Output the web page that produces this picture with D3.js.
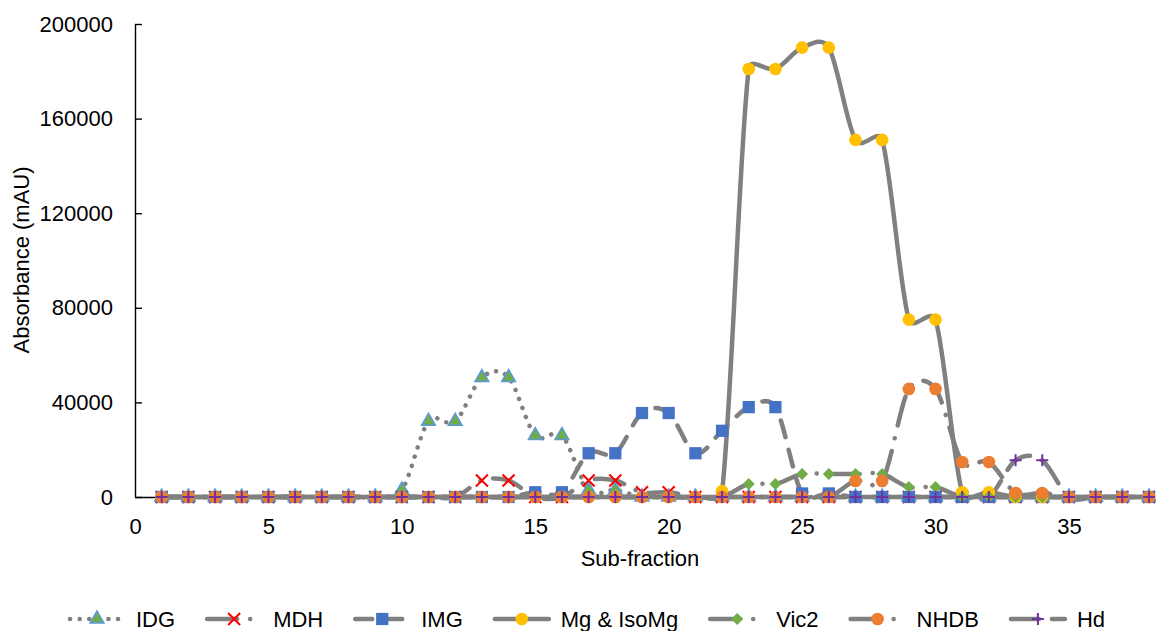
<!DOCTYPE html>
<html>
<head>
<meta charset="utf-8">
<script src="https://cdn.jsdelivr.net/npm/d3@7/dist/d3.min.js"></script>
<style>
  html, body { margin: 0; padding: 0; background: #fff; }
  svg text { font-family: "Liberation Sans", Arial, sans-serif; fill: #000; }
</style>
</head>
<body>
<svg id="chart" width="1156" height="631"></svg>
<script>
// Sub-fractions collected from the column
const subFraction = [1,2,3,4,5,6,7,8,9,10,11,12,13,14,15,16,17,18,19,20,21,22,23,24,25,26,27,28,29,30,31,32,33,34,35,36,37,38];

// Absorbance (mAU) per sub-fraction for each compound
const idg  = [0,0,0,0,0,0,0,0,0,3000, 32000,32000,50500,50500,26000,26000,3000,3000,0,0, 0,0,0,0,0,0,0,0,0,0, 0,0,0,0,0,0,0,0];
const mdh  = [0,0,0,0,0,0,0,0,0,0, 0,0,7000,7000,0,0,7000,7000,2000,2000, 0,0,0,0,0,0,0,0,0,0, 0,0,0,0,0,0,0,0];
const img  = [0,0,0,0,0,0,0,0,0,0, 0,0,0,0,2000,2000,18500,18500,35500,35500, 18500,28000,38000,38000,1500,1500,0,0,0,0, 0,0,0,0,0,0,0,0];
const mg   = [0,0,0,0,0,0,0,0,0,0, 0,0,0,0,0,0,0,0,0,0, 0,2500,181000,181000,190000,190000,151000,151000,75000,75000, 2000,2000,0,0,0,0,0,0];
const vic2 = [0,0,0,0,0,0,0,0,0,0, 0,0,0,0,0,0,0,0,0,0, 0,0,5500,5500,9700,9700,9700,9700,4200,4200, 0,0,0,0,0,0,0,0];
const nhdb = [0,0,0,0,0,0,0,0,0,0, 0,0,0,0,0,0,0,0,0,0, 0,0,0,0,0,0,6800,6800,45700,45700, 14800,14800,1700,1700,0,0,0,0];
const hd   = [0,0,0,0,0,0,0,0,0,0, 0,0,0,0,0,0,0,0,0,0, 0,0,0,0,0,0,0,0,0,0, 0,0,15500,15500,0,0,0,0];

const seriesNames = ["IDG", "MDH", "IMG", "Mg & IsoMg", "Vic2", "NHDB", "Hd"];
const seriesValues = [idg, mdh, img, mg, vic2, nhdb, hd];

const yTicks = [0, 40000, 80000, 120000, 160000, 200000];
const xTicks = [0, 5, 10, 15, 20, 25, 30, 35];

// Line and marker styling per series
const lineGray = "#808080";
const styles = [
  { dash: "0.1 9.5",          marker: "triangle", fill: "#70AD47", stroke: "#5B9BD5" },
  { dash: "30 13 0.1 13",     marker: "x",        fill: "none",    stroke: "#FF0000" },
  { dash: "17 13",            marker: "square",   fill: "#4472C4", stroke: "#4472C4" },
  { dash: null,               marker: "circle",   fill: "#FFC000", stroke: "#FFC000" },
  { dash: "30 13 0.1 13",     marker: "diamond",  fill: "#70AD47", stroke: "#70AD47" },
  { dash: "30 13 0.1 13",     marker: "circle",   fill: "#ED7D31", stroke: "#ED7D31" },
  { dash: "28 13",            marker: "plus",     fill: "none",    stroke: "#7030A0" }
];

const series = seriesNames.map((name, i) => ({
  name,
  style: styles[i],
  points: subFraction.map((s, j) => ({ x: s, y: seriesValues[i][j] }))
}));

const svg = d3.select("#chart");
const FONT = 22;

const x = d3.scaleLinear().domain([0, 38]).range([135, 1149]);
const y = d3.scaleLinear().domain([0, 200000]).range([497, 24]);

// Y axis with inward ticks
const yAxis = svg.append("g")
  .attr("transform", `translate(${x(0)},0)`)
  .call(d3.axisLeft(y).tickValues(yTicks).tickFormat(d3.format("d"))
    .tickSizeInner(-7).tickSizeOuter(0).tickPadding(22));
yAxis.select(".domain").attr("stroke", "#000").attr("stroke-width", 1.4);
yAxis.selectAll(".tick line").attr("stroke", "#000").attr("stroke-width", 1.4);
yAxis.selectAll("text").style("font-size", FONT + "px");

// X axis
const xAxis = svg.append("g")
  .attr("transform", `translate(0,${y(0)})`)
  .call(d3.axisBottom(x).tickValues(xTicks).tickSize(0).tickSizeOuter(0).tickPadding(21));
xAxis.select(".domain").attr("stroke", "#000").attr("stroke-width", 1.4);
xAxis.selectAll("text").style("font-size", FONT + "px");

// Axis titles
svg.append("text")
  .attr("transform", "translate(29,260) rotate(-90)")
  .attr("text-anchor", "middle")
  .style("font-size", FONT + "px")
  .text("Absorbance (mAU)");

svg.append("text")
  .attr("x", 640).attr("y", 566)
  .attr("text-anchor", "middle")
  .style("font-size", FONT + "px")
  .text("Sub-fraction");

// Smoothing curve: cubic Bezier segments with Catmull-Rom tangents (1/6 of the
// neighbour span), each control arm limited to half of its segment's chord so
// that steep jumps next to flat runs do not overshoot much.
function SmoothClamped(context) { this._context = context; }
SmoothClamped.prototype = {
  areaStart() {}, areaEnd() {},
  lineStart() { this._pts = []; },
  point(px, py) { this._pts.push([+px, +py]); },
  lineEnd() {
    const p = this._pts, n = p.length, c = this._context;
    if (!n) return;
    c.moveTo(p[0][0], p[0][1]);
    if (n === 1) return;
    const tangent = i => {
      const a = p[Math.max(i - 1, 0)], b = p[Math.min(i + 1, n - 1)];
      return [(b[0] - a[0]) / 6, (b[1] - a[1]) / 6];
    };
    const clamp = (t, maxLen) => {
      const len = Math.hypot(t[0], t[1]);
      return len > maxLen ? [t[0] * maxLen / len, t[1] * maxLen / len] : t;
    };
    for (let i = 0; i < n - 1; i++) {
      const p0 = p[i], p1 = p[i + 1];
      const chord = Math.hypot(p1[0] - p0[0], p1[1] - p0[1]);
      const t0 = clamp(tangent(i), chord / 2);
      const t1 = clamp(tangent(i + 1), chord / 2);
      c.bezierCurveTo(p0[0] + t0[0], p0[1] + t0[1], p1[0] - t1[0], p1[1] - t1[1], p1[0], p1[1]);
    }
  }
};
const curveSmoothClamped = context => new SmoothClamped(context);

const line = d3.line()
  .x(d => x(d.x))
  .y(d => y(d.y))
  .curve(curveSmoothClamped);

function styleLine(sel, st) {
  sel.attr("fill", "none")
    .attr("stroke", lineGray)
    .attr("stroke-width", 4.5)
    .attr("stroke-linecap", "round")
    .attr("stroke-linejoin", "round")
    .attr("stroke-dasharray", st.dash);
}

const plot = svg.append("g");
series.forEach(s => {
  plot.append("path").datum(s.points).attr("d", line).call(styleLine, s.style);
});

// Markers
function drawMarker(g, st) {
  switch (st.marker) {
    case "triangle":
      g.append("path").attr("d", d3.symbol(d3.symbolTriangle, 80)())
        .attr("fill", st.fill).attr("stroke", st.stroke).attr("stroke-width", 1.6);
      break;
    case "square":
      g.append("path").attr("d", d3.symbol(d3.symbolSquare, 150)())
        .attr("fill", st.fill);
      break;
    case "circle":
      g.append("path").attr("d", d3.symbol(d3.symbolCircle, 125)())
        .attr("fill", st.fill);
      break;
    case "diamond":
      g.append("path").attr("d", d3.symbol(d3.symbolSquare, 72)())
        .attr("transform", "rotate(45)")
        .attr("fill", st.fill);
      break;
    case "x":
      g.append("path").attr("d", "M-6,-6L6,6M-6,6L6,-6")
        .attr("stroke", st.stroke).attr("stroke-width", 2).attr("fill", "none");
      break;
    case "plus":
      g.append("path").attr("d", "M-6,0L6,0M0,-6L0,6")
        .attr("stroke", st.stroke).attr("stroke-width", 2).attr("fill", "none");
      break;
  }
}

series.forEach(s => {
  plot.append("g").selectAll("g")
    .data(s.points)
    .join("g")
    .attr("transform", d => `translate(${x(d.x)},${y(d.y)})`)
    .each(function() { drawMarker(d3.select(this), s.style); });
});

// Legend along the bottom
const legend = svg.append("g");
const keyW = 54, keyGap = 12, itemGap = 32, legendY = 619;
let cursor = 70;
series.forEach(s => {
  const item = legend.append("g").attr("transform", `translate(${cursor},0)`);
  item.append("path")
    .attr("d", `M0,${legendY}H${keyW}`)
    .call(styleLine, s.style);
  const m = item.append("g").attr("transform", `translate(${keyW / 2},${legendY})`);
  drawMarker(m, s.style);
  const t = item.append("text")
    .attr("x", keyW + keyGap).attr("y", legendY + 8)
    .style("font-size", FONT + "px")
    .text(s.name);
  cursor += keyW + keyGap + t.node().getComputedTextLength() + itemGap;
});
</script>
</body>
</html>
